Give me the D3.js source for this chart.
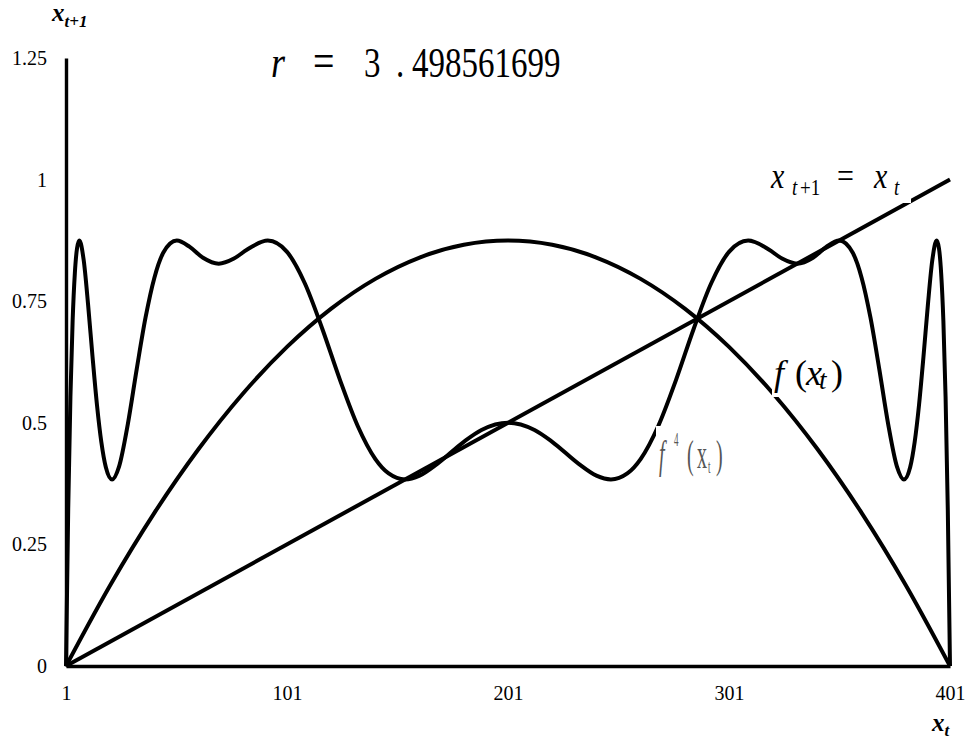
<!DOCTYPE html>
<html lang="en">
<head>
    <meta charset="UTF-8">
    <title>Logistic map r = 3.498561699</title>
    <style>
        body { margin: 0; background: #fff; }
        svg text { font-family: "Liberation Serif", "Times New Roman", "DejaVu Serif", serif; }
        .tick text { font-size: 20px; fill: #000; }
        .axis path { stroke: #000; stroke-width: 3.4px; }
        .curve { fill: none; stroke: #000; stroke-width: 4px; stroke-linejoin: round; }
    </style>
</head>
<body>
    <svg id="chart" width="966" height="744"></svg>

    <script src="https://d3js.org/d3.v7.min.js"></script>
    <script>
        // x axis is the point index 1..401, y is x(t+1)
        const xTicks = [1, 101, 201, 301, 401];
        const yTicks = [0, 0.25, 0.5, 0.75, 1, 1.25];

        // diagonal x(t+1) = x(t)
        const diagIdx = [1, 401];
        const diagVals = [0, 1];

        // f(x) parabola, read every 20 points
        const fIdx = [1, 21, 41, 61, 81, 101, 121, 141, 161, 181, 201,
                      221, 241, 261, 281, 301, 321, 341, 361, 381, 401];
        const fVals = [0, 0.1662, 0.3149, 0.4461, 0.5598, 0.6560, 0.7347, 0.7959, 0.8397, 0.8659, 0.8746,
                       0.8659, 0.8397, 0.7959, 0.7347, 0.6560, 0.5598, 0.4461, 0.3149, 0.1662, 0];

        // f^4(x), read at the turning points and in between
        const f4Idx = [1, 2, 3, 4, 5, 6, 7.05, 9, 11, 13, 15, 17, 19, 21.84, 25, 29, 33, 37, 41, 45,
                       51.14, 57, 63, 70.1, 77, 83, 92.32, 101, 109, 117, 125, 133, 141, 147, 154.44,
                       161, 169, 181, 189, 201,
                       213, 221, 233, 241, 247.56, 255, 261, 269, 277, 285, 293, 301, 309.68, 319,
                       325, 331.9, 339, 345, 350.86, 357, 361, 365, 369, 373, 377, 380.16, 383, 385,
                       387, 389, 391, 393, 394.95, 396, 397, 398, 399, 400, 401];
        const f4Vals = [0, 0.3223, 0.5530, 0.7097, 0.8074, 0.8588, 0.8746, 0.8345, 0.7427, 0.6360,
                        0.5374, 0.4599, 0.4091, 0.3836, 0.4101, 0.4980, 0.6104, 0.7165, 0.7984, 0.8495,
                        0.8746, 0.8616, 0.8393, 0.8272, 0.8376, 0.8564, 0.8746, 0.8515, 0.7874, 0.6929,
                        0.5878, 0.4935, 0.4254, 0.3958, 0.3836, 0.3913, 0.4155, 0.4609, 0.4851, 0.5000,
                        0.4851, 0.4609, 0.4155, 0.3913, 0.3836, 0.3958, 0.4254, 0.4935, 0.5878, 0.6929,
                        0.7874, 0.8515, 0.8746, 0.8564, 0.8376, 0.8272, 0.8393, 0.8616, 0.8746, 0.8495,
                        0.7984, 0.7165, 0.6104, 0.4980, 0.4101, 0.3836, 0.4091, 0.4599, 0.5374, 0.6360,
                        0.7427, 0.8345, 0.8746, 0.8588, 0.8074, 0.7097, 0.5530, 0.3223, 0];

        const margin = { top: 58, right: 16, bottom: 78, left: 66 };
        const width = 966 - margin.left - margin.right;
        const height = 744 - margin.top - margin.bottom;

        const svg = d3.select("#chart");
        const g = svg.append("g")
            .attr("transform", "translate(" + margin.left + "," + margin.top + ")");

        const x = d3.scaleLinear().domain([1, 401]).range([0, width]);
        const y = d3.scaleLinear().domain([0, 1.25]).range([height, 0]);

        const line = d3.line()
            .x(d => x(d[0]))
            .y(d => y(d[1]))
            .curve(d3.curveMonotoneX);

        const zip = (a, b) => a.map((v, i) => [v, b[i]]);

        // curves
        g.append("path").attr("class", "curve").attr("d", line(zip(fIdx, fVals)));
        g.append("path").attr("class", "curve").attr("d", line(zip(f4Idx, f4Vals)));
        g.append("path").attr("class", "curve").attr("d", line(zip(diagIdx, diagVals)));

        // axes
        g.append("g")
            .attr("class", "axis")
            .attr("transform", "translate(0," + height + ")")
            .call(d3.axisBottom(x).tickValues(xTicks).tickSize(0).tickPadding(20).tickFormat(d => d));

        g.append("g")
            .attr("class", "axis")
            .call(d3.axisLeft(y).tickValues(yTicks).tickSize(0).tickPadding(19).tickFormat(d => String(d)));

        // axis titles
        const yTitle = svg.append("text")
            .attr("x", 52).attr("y", 21)
            .style("font-weight", "bold").style("font-style", "italic").style("font-size", "25px");
        yTitle.append("tspan").text("x");
        yTitle.append("tspan").attr("dy", 6).style("font-size", "17px").text("t+1");

        const xTitle = svg.append("text")
            .attr("x", 932).attr("y", 731)
            .style("font-weight", "bold").style("font-style", "italic").style("font-size", "25px");
        xTitle.append("tspan").text("x");
        xTitle.append("tspan").attr("dy", 5).style("font-size", "17px").text("t");

        // r = 3.498561699 (equation style, slightly stretched vertically)
        const rText = svg.append("g")
            .attr("transform", "translate(0,77) scale(1,1.25)")
            .append("text")
            .style("font-size", "33px");
        rText.append("tspan").attr("x", 271).attr("y", 0).style("font-style", "italic").style("font-size", "36px").text("r");
        rText.append("tspan").attr("x", 313).attr("y", 0).style("font-size", "38px").text("=");
        rText.append("tspan").attr("x", 364).attr("y", 0).text("3");
        rText.append("tspan").attr("x", 396).attr("y", 0).text(".");
        rText.append("tspan").attr("x", 412).attr("y", 0).text("498561699");

        // label x(t+1) = x(t), white box cuts the diagonal
        svg.append("rect").attr("x", 762).attr("y", 158).attr("width", 149).attr("height", 45).attr("fill", "#fff");
        const diagText = svg.append("g")
            .attr("transform", "translate(0,188) scale(1,1.2)")
            .append("text")
            .style("font-size", "30px");
        diagText.append("tspan").attr("x", 771).attr("y", 0).style("font-style", "italic").text("x");
        diagText.append("tspan").attr("x", 792).attr("y", 6).style("font-size", "19px").style("font-style", "italic").text("t");
        diagText.append("tspan").attr("x", 800).attr("y", 6).style("font-size", "19px").text("+1");
        diagText.append("tspan").attr("x", 837).attr("y", 0).text("=");
        diagText.append("tspan").attr("x", 874).attr("y", 0).style("font-style", "italic").text("x");
        diagText.append("tspan").attr("x", 894).attr("y", 6).style("font-size", "19px").style("font-style", "italic").text("t");

        // label f(x_t)
        svg.append("rect").attr("x", 772).attr("y", 350).attr("width", 80).attr("height", 47).attr("fill", "#fff");
        const fText = svg.append("text").attr("y", 385).style("font-size", "36px").style("font-style", "italic");
        fText.append("tspan").attr("x", 774).text("f");
        fText.append("tspan").attr("x", 795).style("font-style", "normal").text("(");
        fText.append("tspan").attr("x", 806).text("x");
        fText.append("tspan").attr("x", 819).attr("y", 389).style("font-size", "27px").text("t");
        fText.append("tspan").attr("x", 831).attr("y", 385).style("font-style", "normal").text(")");

        // label f^4(x_t), narrow grey glyphs
        svg.append("rect").attr("x", 656).attr("y", 426).attr("width", 74).attr("height", 54).attr("fill", "#fff");
        const f4Text = svg.append("g")
            .attr("transform", "translate(656,468) scale(0.5,1)")
            .append("text")
            .style("font-size", "40px").style("fill", "#555");
        f4Text.append("tspan").attr("x", 6).attr("y", 0).style("font-style", "italic").text("f");
        f4Text.append("tspan").attr("x", 36).attr("y", -22).style("font-size", "18px").text("4");
        f4Text.append("tspan").attr("x", 62).attr("y", 0).text("(");
        f4Text.append("tspan").attr("x", 82).attr("y", 0).text("x");
        f4Text.append("tspan").attr("x", 104).attr("y", 5).style("font-size", "18px").text("t");
        f4Text.append("tspan").attr("x", 120).attr("y", 0).text(")");
    </script>
</body>
</html>
